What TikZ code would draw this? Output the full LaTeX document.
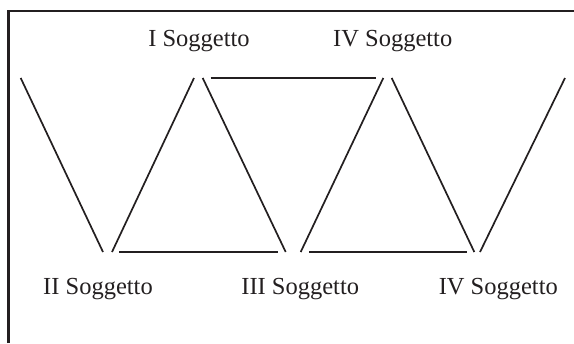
\documentclass[tikz,border=0pt]{standalone}
\usepackage{fontspec}
\setmainfont{Liberation Serif}
\usetikzlibrary{positioning}
\definecolor{ink}{RGB}{35,31,32}
\tikzset{
  frame/.style={draw=ink,line width=2.2bp},
  zig/.style={draw=ink,line width=1.7bp},
  subj/.style={anchor=base,inner sep=0pt,text=ink,font=\fontsize{24.5bp}{29bp}\selectfont},
}

\begin{document}
\begin{tikzpicture}[x=1bp,y=-1bp]
    \useasboundingbox (0,0) rectangle (574,343);
    \draw[frame] (8.5,343) |- (574,10.7);
    % labels of the voices
    \node[subj] (s1) at (199,46) {I Soggetto};
    \node[subj] (s4) at (392.7,46) {IV Soggetto};
    \node[subj] (s2) at (98,294.3) {II Soggetto};
    \node[subj] (s3) at (300.2,294.3) {III Soggetto};
    \node[subj] (s5) at (498.3,294.3) {IV Soggetto};
    % end points of the strokes
    \foreach \n/\x/\y in {a1/20.7/78,a2/103/252,b1/112/252,b2/194/78,c1/202.7/78,c2/285.7/252,
      d1/300.7/252,d2/383.3/78,e1/391.7/78,e2/474.3/252,f1/480/252,f2/565/78,
      g1/119/252,g2/277.7/252,h1/210.7/78,h2/376/78,k1/309/252,k2/466.7/252}
      \coordinate (\n) at (\x,\y);
    \foreach \p/\q in {a1/a2,b1/b2,c1/c2,d1/d2,e1/e2,f1/f2,g1/g2,h1/h2,k1/k2}
      \draw[zig] (\p) -- (\q);
\end{tikzpicture}
\end{document}
